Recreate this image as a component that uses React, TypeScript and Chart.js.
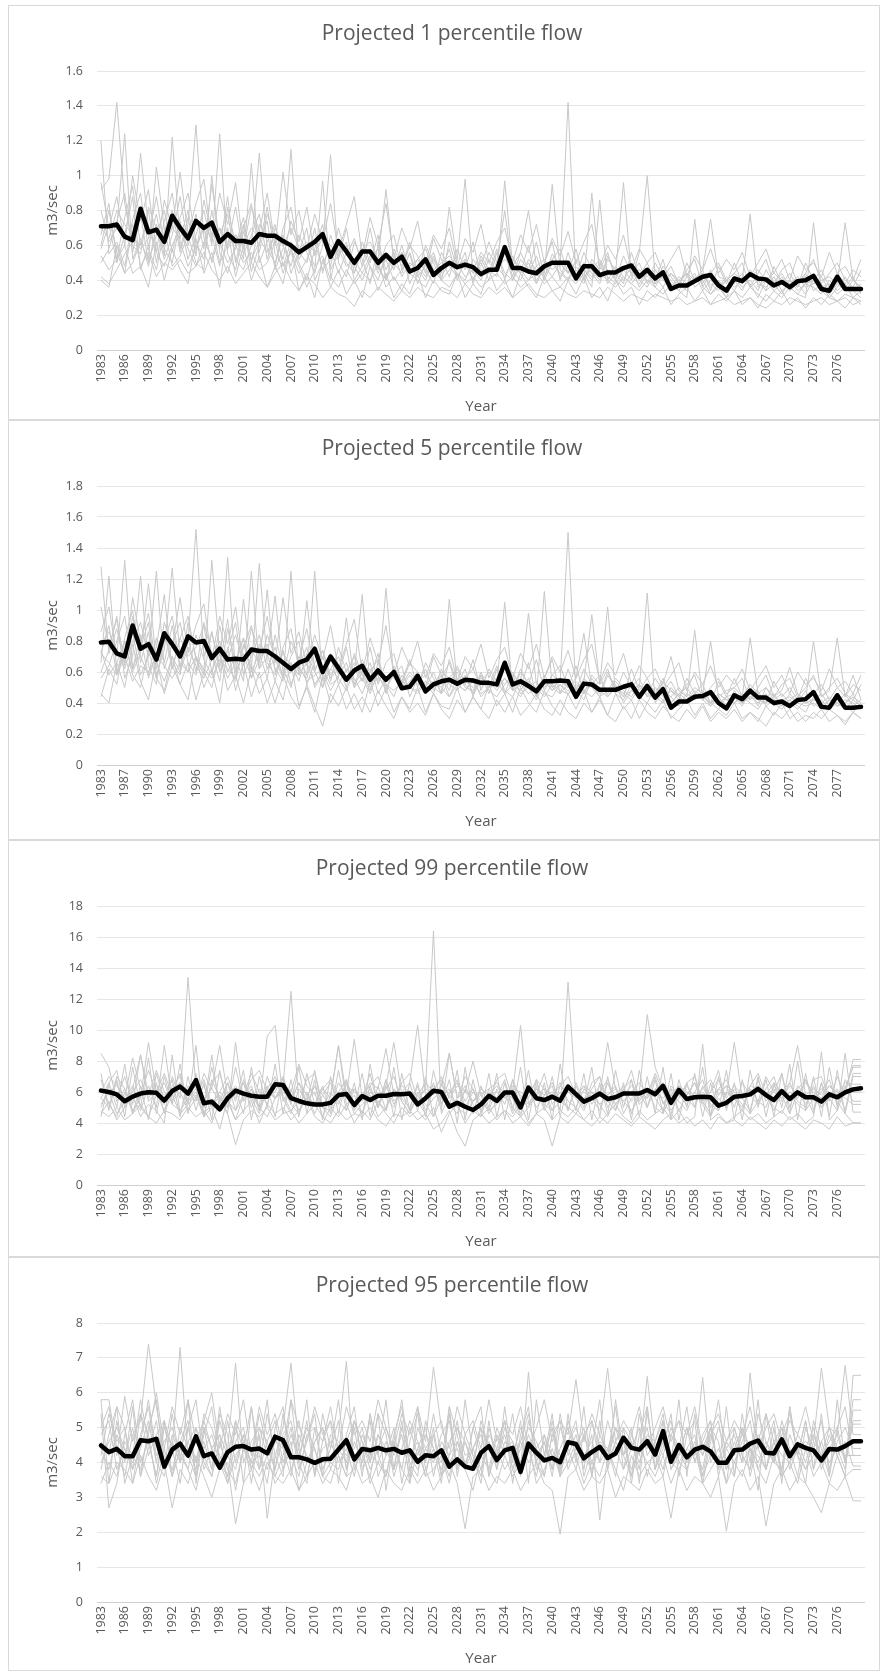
import React, { useEffect, useRef } from "react";
import { Chart, registerables } from "chart.js";
Chart.register(...registerables);

// ---------- categories ----------
const YEARS: string[] = Array.from({ length: 97 }, (_, i) => String(1983 + i));
const YEARS_P5: string[] = ["1983", ...Array.from({ length: 96 }, (_, i) => String(1985 + i))];

const TITLES = [
  "Projected 1 percentile flow",
  "Projected 5 percentile flow",
  "Projected 99 percentile flow",
  "Projected 95 percentile flow",
];
const Y_TITLE = "m3/sec";
const X_TITLE = "Year";
const Y_MAX = [1.6, 1.8, 18, 8];
const Y_STEP = [0.2, 0.2, 2, 1];

// ---------- Panel 1 : 1 percentile ----------
const P1_MEAN = [
  0.71, 0.71, 0.72, 0.65, 0.63, 0.81, 0.675, 0.69, 0.62, 0.77,
  0.70, 0.64, 0.74, 0.70, 0.73, 0.62, 0.665, 0.625, 0.625, 0.615,
  0.665, 0.655, 0.655, 0.625, 0.60, 0.56, 0.59, 0.62, 0.665, 0.535,
  0.625, 0.565, 0.50, 0.565, 0.565, 0.50, 0.545, 0.50, 0.535, 0.45,
  0.47, 0.52, 0.43, 0.47, 0.50, 0.475, 0.49, 0.475, 0.435, 0.46,
  0.46, 0.59, 0.47, 0.47, 0.45, 0.44, 0.48, 0.50, 0.50, 0.50,
  0.41, 0.48, 0.48, 0.43, 0.445, 0.445, 0.47, 0.485, 0.42, 0.46,
  0.41, 0.445, 0.35, 0.37, 0.37, 0.395, 0.42, 0.43, 0.37, 0.34,
  0.41, 0.395, 0.435, 0.41, 0.405, 0.37, 0.39, 0.36, 0.395, 0.40,
  0.425, 0.35, 0.34, 0.42, 0.35, 0.35, 0.35,
];
const P1_G1 = [
  0.92, 0.98, 1.42, 0.84, 0.60, 0.55, 0.82, 0.70, 0.52, 0.66,
  0.88, 0.60, 0.78, 0.58, 0.95, 0.62, 0.50, 0.58, 0.72, 0.45,
  0.60, 0.82, 0.55, 0.48, 0.62, 0.50, 0.40, 0.58, 0.72, 0.46,
  0.55, 0.62, 0.40, 0.48, 0.58, 0.44, 0.52, 0.40, 0.46, 0.55,
  0.38, 0.50, 0.42, 0.46, 0.58, 0.40, 0.52, 0.44, 0.48, 0.62,
  0.50, 0.80, 0.45, 0.40, 0.52, 0.46, 0.42, 0.55, 0.48, 1.42,
  0.40, 0.50, 0.44, 0.38, 0.52, 0.46, 0.40, 0.48, 0.36, 0.44,
  0.40, 0.52, 0.34, 0.38, 0.44, 0.36, 0.40, 0.32, 0.38, 0.30,
  0.42, 0.36, 0.40, 0.34, 0.46, 0.38, 0.32, 0.40, 0.36, 0.44,
  0.34, 0.38, 0.30, 0.36, 0.42, 0.34, 0.38,
];
const P1_G2 = [
  1.20, 0.55, 0.62, 0.48, 0.75, 0.90, 0.58, 0.46, 0.68, 0.80,
  0.56, 0.72, 1.29, 0.64, 0.52, 0.70, 0.60, 0.82, 0.55, 0.66,
  0.78, 0.52, 0.70, 0.60, 0.48, 0.66, 0.56, 0.44, 0.60, 1.12,
  0.50, 0.42, 0.62, 0.52, 0.38, 0.60, 0.46, 0.56, 0.42, 0.50,
  0.46, 0.40, 0.52, 0.44, 0.82, 0.50, 0.42, 0.46, 0.40, 0.52,
  0.46, 0.56, 0.40, 0.48, 0.44, 0.54, 0.40, 0.50, 0.44, 0.40,
  0.52, 0.46, 0.40, 0.48, 0.42, 0.38, 0.46, 0.40, 0.56, 1.00,
  0.42, 0.36, 0.44, 0.38, 0.34, 0.42, 0.38, 0.46, 0.36, 0.40,
  0.34, 0.42, 0.38, 0.30, 0.40, 0.36, 0.42, 0.34, 0.38, 0.32,
  0.40, 0.36, 0.32, 0.38, 0.34, 0.40, 0.36,
];
const P1_G3 = [
  0.80, 0.62, 0.70, 1.24, 0.52, 0.64, 0.48, 0.72, 0.58, 0.50,
  0.74, 0.52, 0.66, 0.80, 0.60, 1.24, 0.55, 0.46, 0.68, 0.52,
  0.62, 0.74, 0.46, 0.58, 1.15, 0.52, 0.60, 0.48, 0.54, 0.40,
  0.62, 0.50, 0.44, 0.58, 0.48, 0.40, 0.54, 0.46, 0.60, 0.44,
  0.52, 0.46, 0.38, 0.56, 0.48, 0.42, 0.50, 0.40, 0.54, 0.46,
  0.42, 0.97, 0.48, 0.44, 0.50, 0.40, 0.46, 0.52, 0.42, 0.48,
  0.44, 0.38, 0.50, 0.42, 0.46, 0.40, 0.36, 0.44, 0.40, 0.36,
  0.46, 0.40, 0.36, 0.42, 0.38, 0.44, 0.34, 0.40, 0.36, 0.42,
  0.38, 0.44, 0.36, 0.40, 0.34, 0.38, 0.44, 0.36, 0.32, 0.38,
  0.36, 0.32, 0.40, 0.34, 0.38, 0.30, 0.34,
];
const P1_G4 = [
  0.58, 0.72, 0.50, 0.66, 0.88, 0.46, 0.60, 0.78, 0.54, 1.22,
  0.62, 0.48, 0.58, 0.70, 0.50, 0.66, 0.78, 0.52, 0.46, 0.60,
  1.13, 0.58, 0.50, 0.66, 0.44, 0.56, 0.70, 0.40, 0.50, 0.58,
  0.44, 0.56, 0.48, 0.40, 0.52, 0.58, 0.42, 0.48, 0.56, 0.38,
  0.48, 0.42, 0.54, 0.40, 0.46, 0.52, 0.98, 0.44, 0.50, 0.40,
  0.56, 0.44, 0.40, 0.52, 0.46, 0.38, 0.48, 0.42, 0.50, 0.44,
  0.48, 0.42, 0.46, 0.52, 0.38, 0.44, 0.96, 0.42, 0.38, 0.46,
  0.36, 0.44, 0.40, 0.34, 0.42, 0.38, 0.44, 0.36, 0.40, 0.34,
  0.40, 0.34, 0.44, 0.38, 0.36, 0.42, 0.34, 0.38, 0.42, 0.36,
  0.38, 0.42, 0.34, 0.40, 0.36, 0.42, 0.32,
];
const P1_G5 = [
  0.42, 0.38, 0.46, 0.55, 0.62, 1.13, 0.70, 0.56, 0.48, 0.60,
  0.70, 0.58, 0.48, 0.62, 0.72, 0.50, 0.60, 0.66, 0.52, 1.07,
  0.50, 0.62, 0.72, 0.48, 0.56, 0.44, 0.52, 0.62, 0.46, 0.52,
  0.58, 0.48, 0.52, 0.44, 0.54, 0.48, 0.40, 0.50, 0.44, 0.56,
  0.42, 0.48, 0.56, 0.42, 0.50, 0.44, 0.40, 0.52, 0.46, 0.44,
  0.48, 0.42, 0.52, 0.46, 0.40, 0.48, 0.44, 0.95, 0.46, 0.40,
  0.46, 0.40, 0.90, 0.44, 0.40, 0.48, 0.42, 0.38, 0.44, 0.40,
  0.38, 0.42, 0.36, 0.40, 0.36, 0.40, 0.42, 0.38, 0.34, 0.40,
  0.36, 0.40, 0.78, 0.36, 0.40, 0.34, 0.38, 0.40, 0.34, 0.38,
  0.40, 0.36, 0.38, 0.32, 0.36, 0.34, 0.30,
];
const P1_G6 = [
  0.60, 0.80, 0.56, 0.44, 0.50, 0.62, 0.52, 1.05, 0.70, 0.48,
  0.54, 0.66, 0.50, 0.46, 1.00, 0.56, 0.44, 0.60, 0.50, 0.56,
  0.46, 0.50, 0.62, 0.44, 0.58, 0.48, 0.36, 0.46, 0.97, 0.42,
  0.36, 0.46, 0.38, 0.44, 0.40, 0.50, 0.36, 0.42, 0.34, 0.44,
  0.40, 0.36, 0.46, 0.40, 0.36, 0.44, 0.38, 0.42, 0.36, 0.40,
  0.44, 0.38, 0.42, 0.36, 0.40, 0.44, 0.38, 0.42, 0.36, 0.42,
  0.38, 0.44, 0.36, 0.86, 0.40, 0.36, 0.42, 0.38, 0.34, 0.40,
  0.36, 0.32, 0.38, 0.34, 0.30, 0.75, 0.36, 0.32, 0.36, 0.30,
  0.34, 0.30, 0.36, 0.32, 0.28, 0.34, 0.30, 0.36, 0.32, 0.30,
  0.73, 0.34, 0.30, 0.28, 0.32, 0.30, 0.28,
];
const P1_G7 = [
  0.54, 0.46, 0.52, 0.60, 0.44, 0.48, 0.56, 0.42, 0.50, 0.46,
  0.52, 0.44, 0.48, 0.56, 0.46, 0.40, 0.48, 0.38, 0.44, 0.50,
  0.42, 0.36, 0.44, 0.50, 0.40, 0.34, 0.42, 0.38, 0.30, 0.36,
  0.32, 0.30, 0.25, 0.34, 0.30, 0.36, 0.32, 0.28, 0.34, 0.30,
  0.36, 0.32, 0.30, 0.36, 0.34, 0.30, 0.38, 0.32, 0.30, 0.36,
  0.32, 0.36, 0.30, 0.34, 0.38, 0.32, 0.30, 0.34, 0.36, 0.32,
  0.30, 0.34, 0.32, 0.30, 0.36, 0.32, 0.28, 0.32, 0.30, 0.28,
  0.32, 0.30, 0.28, 0.30, 0.26, 0.28, 0.30, 0.26, 0.28, 0.30,
  0.26, 0.28, 0.30, 0.26, 0.24, 0.28, 0.26, 0.30, 0.28, 0.26,
  0.28, 0.30, 0.26, 0.28, 0.30, 0.26, 0.28,
];
const P1_G8 = [
  0.70, 0.64, 0.80, 0.72, 0.66, 0.58, 0.64, 0.88, 0.60, 0.70,
  0.64, 0.80, 0.58, 0.72, 0.64, 0.70, 0.58, 0.66, 0.60, 0.70,
  0.64, 0.56, 0.66, 0.60, 0.70, 0.58, 0.62, 0.56, 0.64, 0.60,
  0.54, 0.60, 0.50, 0.58, 0.62, 0.52, 0.92, 0.50, 0.56, 0.48,
  0.52, 0.58, 0.46, 0.50, 0.54, 0.48, 0.52, 0.46, 0.56, 0.50,
  0.46, 0.52, 0.48, 0.56, 0.80, 0.48, 0.52, 0.46, 0.50, 0.44,
  0.50, 0.46, 0.42, 0.50, 0.46, 0.42, 0.48, 0.44, 0.46, 0.42,
  0.46, 0.40, 0.44, 0.40, 0.44, 0.40, 0.46, 0.75, 0.42, 0.40,
  0.44, 0.40, 0.42, 0.46, 0.40, 0.44, 0.40, 0.36, 0.40, 0.42,
  0.38, 0.40, 0.42, 0.38, 0.73, 0.40, 0.36,
];
const P1_G9 = [
  0.96, 0.70, 0.88, 0.60, 1.00, 0.74, 0.92, 0.56, 0.86, 0.70,
  1.02, 0.66, 0.84, 0.98, 0.62, 0.90, 0.72, 0.96, 0.58, 0.82,
  0.68, 0.90, 0.60, 1.02, 0.66, 0.80, 0.58, 0.78, 0.62, 0.84,
  0.56, 0.72, 0.88, 0.54, 0.76, 0.60, 0.84, 0.52, 0.70, 0.58,
  0.74, 0.50, 0.66, 0.58, 0.70, 0.48, 0.64, 0.56, 0.72, 0.50,
  0.62, 0.70, 0.50, 0.66, 0.56, 0.72, 0.50, 0.64, 0.54, 0.68,
  0.50, 0.62, 0.72, 0.48, 0.60, 0.52, 0.66, 0.46, 0.58, 0.50,
  0.56, 0.44, 0.52, 0.60, 0.42, 0.54, 0.46, 0.58, 0.44, 0.52,
  0.46, 0.56, 0.42, 0.50, 0.58, 0.44, 0.52, 0.40, 0.54, 0.46,
  0.50, 0.42, 0.56, 0.44, 0.48, 0.40, 0.52,
];
const P1_G10 = [
  0.40, 0.36, 0.60, 0.44, 0.72, 0.48, 0.36, 0.62, 0.40, 0.58,
  0.46, 0.38, 0.64, 0.44, 0.56, 0.36, 0.70, 0.42, 0.60, 0.40,
  0.54, 0.36, 0.48, 0.38, 0.60, 0.34, 0.44, 0.30, 0.52, 0.36,
  0.46, 0.32, 0.40, 0.30, 0.48, 0.34, 0.44, 0.30, 0.38, 0.32,
  0.44, 0.30, 0.40, 0.34, 0.32, 0.44, 0.30, 0.38, 0.32, 0.46,
  0.34, 0.40, 0.30, 0.44, 0.36, 0.30, 0.42, 0.34, 0.28, 0.40,
  0.32, 0.42, 0.30, 0.36, 0.28, 0.40, 0.32, 0.36, 0.26, 0.34,
  0.30, 0.36, 0.26, 0.32, 0.36, 0.28, 0.34, 0.26, 0.32, 0.28,
  0.34, 0.26, 0.30, 0.24, 0.32, 0.28, 0.34, 0.26, 0.30, 0.24,
  0.30, 0.26, 0.32, 0.28, 0.24, 0.30, 0.26,
];
const P1_G11 = [
  0.66, 0.84, 0.52, 0.76, 0.94, 0.60, 0.80, 0.50, 0.74, 0.90,
  0.58, 0.76, 0.54, 0.86, 0.66, 0.48, 0.82, 0.60, 0.76, 0.50,
  0.72, 0.66, 0.48, 0.70, 0.82, 0.56, 0.50, 0.70, 0.44, 0.66,
  0.52, 0.70, 0.44, 0.62, 0.50, 0.66, 0.40, 0.58, 0.48, 0.62,
  0.44, 0.60, 0.50, 0.40, 0.62, 0.46, 0.56, 0.38, 0.52, 0.44,
  0.58, 0.40, 0.54, 0.44, 0.60, 0.38, 0.50, 0.62, 0.40, 0.56,
  0.42, 0.56, 0.46, 0.40, 0.54, 0.44, 0.38, 0.56, 0.42, 0.50,
  0.38, 0.48, 0.42, 0.36, 0.50, 0.40, 0.46, 0.34, 0.48, 0.38,
  0.50, 0.38, 0.46, 0.40, 0.34, 0.48, 0.38, 0.44, 0.36, 0.50,
  0.40, 0.46, 0.36, 0.44, 0.38, 0.46, 0.42,
];
const P1_G12 = [
  0.50, 0.58, 0.74, 0.90, 0.56, 0.78, 0.50, 0.66, 0.80, 0.56,
  0.76, 0.90, 0.62, 0.52, 0.80, 0.58, 0.88, 0.50, 0.70, 0.84,
  0.56, 0.78, 0.64, 0.52, 0.74, 0.62, 0.82, 0.54, 0.68, 0.48,
  0.70, 0.54, 0.64, 0.48, 0.70, 0.46, 0.60, 0.66, 0.46, 0.60,
  0.54, 0.44, 0.64, 0.52, 0.42, 0.58, 0.46, 0.62, 0.42, 0.56,
  0.48, 0.60, 0.42, 0.56, 0.46, 0.62, 0.42, 0.52, 0.58, 0.44,
  0.58, 0.40, 0.52, 0.46, 0.56, 0.40, 0.54, 0.44, 0.50, 0.38,
  0.50, 0.42, 0.48, 0.38, 0.46, 0.52, 0.36, 0.44, 0.50, 0.40,
  0.44, 0.50, 0.36, 0.44, 0.52, 0.38, 0.46, 0.50, 0.38, 0.44,
  0.52, 0.38, 0.44, 0.50, 0.40, 0.36, 0.46,
];

// ---------- Panel 2 : 5 percentile ----------
const P2_MEAN = [
  0.79, 0.795, 0.72, 0.70, 0.90, 0.75, 0.78, 0.68, 0.85, 0.78,
  0.70, 0.83, 0.79, 0.80, 0.69, 0.75, 0.68, 0.685, 0.68, 0.745,
  0.735, 0.735, 0.70, 0.66, 0.62, 0.66, 0.68, 0.75, 0.60, 0.70,
  0.625, 0.55, 0.61, 0.64, 0.55, 0.61, 0.55, 0.60, 0.495, 0.505,
  0.575, 0.475, 0.52, 0.54, 0.55, 0.525, 0.55, 0.545, 0.53, 0.53,
  0.52, 0.66, 0.52, 0.54, 0.51, 0.475, 0.54, 0.54, 0.545, 0.54,
  0.44, 0.525, 0.52, 0.485, 0.485, 0.485, 0.505, 0.52, 0.44, 0.51,
  0.435, 0.49, 0.37, 0.41, 0.41, 0.44, 0.445, 0.47, 0.40, 0.365,
  0.45, 0.425, 0.48, 0.435, 0.435, 0.40, 0.41, 0.38, 0.42, 0.425,
  0.47, 0.375, 0.37, 0.45, 0.37, 0.37, 0.375,
];
const P2_G1 = [
  1.28, 0.72, 0.88, 0.64, 0.96, 0.70, 0.58, 0.82, 0.66, 0.90,
  0.62, 0.80, 1.52, 0.70, 0.86, 0.60, 0.74, 0.92, 0.58, 0.70,
  0.84, 0.62, 0.76, 0.56, 0.70, 0.80, 0.52, 0.66, 0.74, 0.58,
  0.64, 0.50, 0.72, 0.58, 0.48, 0.66, 0.54, 0.62, 0.50, 0.58,
  0.52, 0.62, 0.48, 0.56, 0.66, 0.50, 0.58, 0.46, 0.54, 0.60,
  0.50, 0.56, 0.48, 0.60, 0.52, 0.46, 0.58, 0.50, 0.54, 1.50,
  0.46, 0.56, 0.50, 0.44, 0.58, 0.50, 0.46, 0.54, 0.42, 0.50,
  0.46, 0.56, 0.40, 0.46, 0.50, 0.42, 0.46, 0.38, 0.44, 0.36,
  0.48, 0.40, 0.46, 0.38, 0.50, 0.42, 0.38, 0.46, 0.40, 0.48,
  0.38, 0.42, 0.36, 0.40, 0.46, 0.38, 0.42,
];
const P2_G2 = [
  0.86, 1.02, 0.70, 1.32, 0.62, 0.76, 0.92, 0.58, 0.74, 1.27,
  0.70, 0.60, 0.84, 0.68, 0.58, 0.90, 0.66, 0.54, 0.78, 0.62,
  1.30, 0.66, 0.58, 0.74, 0.52, 0.64, 0.76, 0.50, 0.60, 0.70,
  0.52, 0.62, 0.56, 0.46, 0.60, 0.68, 0.50, 0.58, 0.64, 0.44,
  0.56, 0.50, 0.60, 0.46, 0.54, 0.60, 0.50, 0.48, 0.58, 0.46,
  0.62, 0.48, 0.44, 0.56, 0.50, 0.42, 0.54, 0.48, 0.56, 0.50,
  0.54, 0.48, 0.52, 0.58, 0.44, 0.50, 0.46, 0.42, 0.50, 1.11,
  0.40, 0.48, 0.44, 0.38, 0.46, 0.42, 0.48, 0.40, 0.44, 0.38,
  0.44, 0.38, 0.48, 0.42, 0.40, 0.46, 0.38, 0.42, 0.46, 0.40,
  0.42, 0.46, 0.38, 0.44, 0.40, 0.46, 0.36,
];
const P2_G3 = [
  0.66, 1.22, 0.60, 0.74, 0.86, 0.58, 0.70, 1.25, 0.62, 0.78,
  0.92, 0.66, 0.58, 0.80, 0.70, 0.62, 1.34, 0.60, 0.72, 0.56,
  0.68, 0.78, 0.62, 0.54, 1.25, 0.58, 0.66, 0.52, 0.60, 0.48,
  0.58, 0.66, 0.50, 0.56, 0.46, 0.60, 0.52, 0.44, 0.58, 0.50,
  0.46, 0.54, 0.50, 0.58, 0.44, 0.52, 0.48, 0.56, 0.44, 0.50,
  0.54, 0.46, 0.52, 0.48, 0.56, 0.44, 1.12, 0.50, 0.46, 0.52,
  0.48, 0.42, 0.56, 0.48, 0.44, 0.52, 0.40, 0.48, 0.44, 0.40,
  0.50, 0.44, 0.40, 0.46, 0.42, 0.48, 0.44, 0.40, 0.36, 0.44,
  0.40, 0.44, 0.40, 0.36, 0.44, 0.40, 0.36, 0.42, 0.38, 0.34,
  0.44, 0.40, 0.36, 0.42, 0.38, 0.34, 0.40,
];
const P2_G4 = [
  0.60, 0.74, 0.96, 0.56, 0.70, 1.22, 0.64, 0.52, 0.86, 0.66,
  0.58, 0.92, 0.70, 0.60, 1.32, 0.72, 0.56, 0.66, 0.82, 0.60,
  0.72, 0.56, 0.84, 0.62, 0.50, 0.70, 0.58, 1.25, 0.54, 0.62,
  0.56, 0.48, 0.62, 0.54, 0.66, 0.46, 0.56, 0.60, 0.48, 0.54,
  0.60, 0.46, 0.54, 0.50, 0.44, 0.56, 0.52, 0.46, 0.60, 0.48,
  0.44, 0.52, 0.58, 0.46, 0.50, 0.54, 0.46, 0.44, 0.52, 0.48,
  0.50, 0.54, 0.97, 0.52, 1.02, 0.46, 0.42, 0.52, 0.46, 0.48,
  0.44, 0.40, 0.50, 0.44, 0.40, 0.46, 0.42, 0.38, 0.46, 0.42,
  0.40, 0.46, 0.42, 0.48, 0.38, 0.42, 0.46, 0.40, 0.36, 0.42,
  0.46, 0.38, 0.42, 0.40, 0.36, 0.42, 0.38,
];
const P2_G5 = [
  0.74, 0.58, 0.66, 0.80, 0.60, 0.72, 1.17, 0.66, 0.54, 0.70,
  0.60, 0.76, 0.64, 0.56, 0.68, 0.80, 0.60, 0.70, 0.54, 1.25,
  0.62, 0.70, 1.09, 0.60, 0.66, 0.54, 0.72, 0.60, 0.50, 0.62,
  0.70, 0.54, 0.60, 1.10, 0.52, 0.58, 0.48, 0.62, 0.54, 0.50,
  0.58, 0.52, 0.46, 0.62, 0.52, 0.48, 0.56, 0.62, 0.50, 0.54,
  0.48, 0.56, 0.50, 0.44, 0.54, 0.50, 0.56, 0.48, 0.52, 0.46,
  0.52, 0.48, 0.44, 0.50, 0.46, 0.54, 0.48, 0.44, 0.52, 0.46,
  0.42, 0.48, 0.44, 0.50, 0.44, 0.87, 0.42, 0.46, 0.40, 0.44,
  0.46, 0.40, 0.44, 0.40, 0.46, 0.38, 0.42, 0.44, 0.40, 0.38,
  0.40, 0.36, 0.42, 0.38, 0.42, 0.40, 0.36,
];
const P2_G6 = [
  0.44, 0.62, 0.52, 0.80, 0.58, 0.50, 0.74, 0.56, 0.48, 0.70,
  0.52, 0.66, 0.42, 0.60, 0.50, 0.72, 0.48, 0.58, 0.40, 0.62,
  0.46, 0.56, 0.40, 0.58, 0.44, 0.36, 0.52, 0.38, 0.25, 0.46,
  0.38, 0.50, 0.36, 0.44, 0.34, 0.48, 0.38, 0.30, 0.44, 0.34,
  0.40, 0.32, 0.46, 0.36, 0.30, 0.42, 0.34, 0.44, 0.36, 0.30,
  0.42, 0.34, 0.44, 0.32, 0.38, 0.46, 0.36, 0.32, 0.42, 0.34,
  0.30, 0.40, 0.34, 0.44, 0.32, 0.28, 0.38, 0.30, 0.42, 0.34,
  0.30, 0.38, 0.32, 0.28, 0.36, 0.30, 0.38, 0.28, 0.34, 0.30,
  0.36, 0.28, 0.34, 0.30, 0.25, 0.34, 0.30, 0.36, 0.28, 0.32,
  0.30, 0.36, 0.28, 0.32, 0.26, 0.34, 0.30,
];
const P2_G7 = [
  0.78, 0.86, 0.74, 0.62, 0.80, 0.92, 0.70, 0.76, 1.10, 0.62,
  0.82, 0.70, 0.76, 0.90, 0.60, 0.74, 0.68, 0.84, 0.66, 0.74,
  0.66, 1.13, 0.60, 0.72, 0.64, 0.58, 1.06, 0.62, 0.70, 0.56,
  0.62, 0.56, 0.66, 0.58, 0.62, 0.54, 1.14, 0.56, 0.52, 0.60,
  0.54, 0.58, 0.52, 0.60, 0.56, 0.62, 0.54, 0.50, 0.56, 0.52,
  0.56, 0.52, 0.58, 0.54, 0.98, 0.52, 0.50, 0.58, 0.54, 0.50,
  0.56, 0.85, 0.50, 0.54, 0.48, 0.56, 0.50, 0.52, 0.46, 0.52,
  0.48, 0.52, 0.70, 0.48, 0.44, 0.50, 0.46, 0.80, 0.44, 0.48,
  0.50, 0.44, 0.82, 0.46, 0.50, 0.44, 0.48, 0.63, 0.46, 0.42,
  0.80, 0.44, 0.48, 0.82, 0.44, 0.58, 0.42,
];
const P2_G8 = [
  0.72, 0.66, 0.58, 0.70, 0.54, 0.64, 0.60, 0.70, 0.64, 0.56,
  0.66, 0.60, 0.70, 0.62, 0.56, 0.68, 0.62, 0.56, 1.07, 0.64,
  0.56, 0.62, 0.68, 0.56, 0.60, 0.64, 0.54, 0.58, 0.62, 0.52,
  0.56, 0.95, 0.52, 0.60, 0.50, 0.56, 0.52, 0.48, 0.54, 0.50,
  0.48, 0.54, 0.50, 0.46, 1.07, 0.52, 0.48, 0.54, 0.46, 0.50,
  0.52, 1.05, 0.48, 0.52, 0.46, 0.50, 0.44, 0.52, 0.48, 0.46,
  0.50, 0.46, 0.52, 0.44, 0.48, 0.50, 0.44, 0.48, 0.52, 0.44,
  0.46, 0.42, 0.48, 0.44, 0.40, 0.46, 0.44, 0.40, 0.46, 0.42,
  0.44, 0.40, 0.44, 0.42, 0.40, 0.44, 0.40, 0.38, 0.44, 0.40,
  0.42, 0.40, 0.44, 0.38, 0.40, 0.44, 0.40,
];
const P2_G9 = [
  1.02, 0.76, 0.94, 0.66, 1.08, 0.80, 0.98, 0.62, 0.92, 0.76,
  1.08, 0.72, 0.90, 1.04, 0.68, 0.96, 0.78, 1.02, 0.64, 0.88,
  0.74, 0.96, 0.66, 1.08, 0.72, 0.86, 0.64, 0.84, 0.68, 0.90,
  0.62, 0.78, 0.94, 0.60, 0.82, 0.66, 0.90, 0.58, 0.76, 0.64,
  0.80, 0.56, 0.72, 0.64, 0.76, 0.54, 0.70, 0.62, 0.78, 0.56,
  0.68, 0.76, 0.56, 0.72, 0.62, 0.78, 0.56, 0.70, 0.60, 0.74,
  0.56, 0.68, 0.78, 0.54, 0.66, 0.58, 0.72, 0.52, 0.64, 0.56,
  0.62, 0.50, 0.58, 0.66, 0.48, 0.60, 0.52, 0.64, 0.50, 0.58,
  0.52, 0.62, 0.48, 0.56, 0.64, 0.50, 0.58, 0.46, 0.60, 0.52,
  0.56, 0.48, 0.62, 0.50, 0.54, 0.46, 0.58,
];
const P2_G10 = [
  0.46, 0.40, 0.66, 0.50, 0.78, 0.54, 0.42, 0.68, 0.46, 0.64,
  0.52, 0.42, 0.70, 0.50, 0.62, 0.40, 0.76, 0.48, 0.66, 0.44,
  0.60, 0.40, 0.54, 0.42, 0.66, 0.38, 0.50, 0.34, 0.58, 0.40,
  0.52, 0.36, 0.46, 0.34, 0.54, 0.38, 0.50, 0.34, 0.44, 0.36,
  0.50, 0.34, 0.46, 0.38, 0.36, 0.50, 0.34, 0.44, 0.36, 0.52,
  0.38, 0.46, 0.34, 0.50, 0.40, 0.34, 0.48, 0.38, 0.32, 0.46,
  0.36, 0.48, 0.34, 0.42, 0.32, 0.46, 0.36, 0.42, 0.30, 0.40,
  0.34, 0.42, 0.30, 0.36, 0.42, 0.32, 0.40, 0.30, 0.36, 0.32,
  0.40, 0.30, 0.34, 0.28, 0.38, 0.32, 0.40, 0.30, 0.34, 0.28,
  0.34, 0.30, 0.36, 0.32, 0.28, 0.34, 0.30,
];
const P2_G11 = [
  0.72, 0.90, 0.58, 0.82, 1.00, 0.66, 0.86, 0.56, 0.80, 0.96,
  0.64, 0.82, 0.60, 0.92, 0.72, 0.54, 0.88, 0.66, 0.82, 0.56,
  0.78, 0.72, 0.54, 0.76, 0.88, 0.62, 0.56, 0.76, 0.50, 0.72,
  0.58, 0.76, 0.50, 0.68, 0.56, 0.72, 0.46, 0.64, 0.54, 0.68,
  0.50, 0.66, 0.56, 0.46, 0.68, 0.52, 0.62, 0.44, 0.58, 0.50,
  0.64, 0.46, 0.60, 0.50, 0.66, 0.44, 0.56, 0.68, 0.46, 0.62,
  0.48, 0.62, 0.52, 0.46, 0.60, 0.50, 0.44, 0.62, 0.48, 0.56,
  0.44, 0.54, 0.48, 0.42, 0.56, 0.46, 0.52, 0.40, 0.54, 0.44,
  0.56, 0.44, 0.52, 0.46, 0.40, 0.54, 0.44, 0.50, 0.42, 0.56,
  0.46, 0.52, 0.42, 0.50, 0.44, 0.52, 0.48,
];
const P2_G12 = [
  0.56, 0.64, 0.80, 0.96, 0.62, 0.84, 0.56, 0.72, 0.86, 0.62,
  0.82, 0.96, 0.68, 0.58, 0.86, 0.64, 0.94, 0.56, 0.76, 0.90,
  0.62, 0.84, 0.70, 0.58, 0.80, 0.68, 0.88, 0.60, 0.74, 0.54,
  0.76, 0.60, 0.70, 0.54, 0.76, 0.52, 0.66, 0.72, 0.52, 0.66,
  0.60, 0.50, 0.70, 0.58, 0.48, 0.64, 0.52, 0.68, 0.48, 0.62,
  0.54, 0.66, 0.48, 0.62, 0.52, 0.68, 0.48, 0.58, 0.64, 0.50,
  0.64, 0.46, 0.58, 0.52, 0.62, 0.46, 0.60, 0.50, 0.56, 0.44,
  0.56, 0.48, 0.54, 0.44, 0.52, 0.58, 0.42, 0.50, 0.56, 0.46,
  0.50, 0.56, 0.42, 0.50, 0.58, 0.44, 0.52, 0.56, 0.44, 0.50,
  0.58, 0.44, 0.50, 0.56, 0.46, 0.42, 0.52,
];

// ---------- Panel 3 : 99 percentile ----------
const P3_MEAN = [
  6.09, 6.0, 5.85, 5.4, 5.7, 5.9, 5.98, 5.95, 5.45, 6.06,
  6.35, 5.9, 6.77, 5.27, 5.38, 4.88, 5.6, 6.09, 5.9, 5.76,
  5.7, 5.7, 6.5, 6.45, 5.6, 5.42, 5.27, 5.2, 5.2, 5.3,
  5.8, 5.87, 5.16, 5.74, 5.48, 5.76, 5.76, 5.87, 5.85, 5.9,
  5.2, 5.6, 6.08, 6.0, 5.05, 5.3, 5.05, 4.84, 5.2, 5.76,
  5.42, 5.96, 5.96, 5.0, 6.28, 5.6, 5.48, 5.7, 5.44, 6.35,
  5.87, 5.38, 5.6, 5.9, 5.55, 5.66, 5.9, 5.9, 5.9, 6.13,
  5.85, 6.4, 5.3, 6.13, 5.55, 5.66, 5.7, 5.66, 5.12, 5.3,
  5.7, 5.74, 5.85, 6.2, 5.8, 5.48, 6.06, 5.55, 5.98, 5.66,
  5.66, 5.38, 5.85, 5.66, 5.98, 6.17, 6.24,
];
const P3_G1 = [
  8.5, 7.6, 5.4, 6.2, 4.8, 5.6, 9.2, 6.0, 5.2, 7.0,
  5.6, 13.4, 6.2, 5.0, 7.6, 5.4, 6.6, 4.8, 5.8, 7.2,
  6.0, 5.2, 6.8, 5.6, 4.6, 6.2, 5.4, 7.4, 5.0, 6.0,
  5.2, 6.6, 4.8, 5.8, 6.4, 5.0, 6.2, 7.0, 5.4, 4.6,
  6.0, 5.4, 6.6, 4.8, 8.5, 5.6, 6.4, 5.2, 4.4, 6.2,
  5.6, 6.8, 5.0, 4.4, 6.4, 5.8, 7.2, 5.2, 6.0, 4.8,
  6.6, 5.4, 6.2, 7.0, 5.0, 5.8, 6.4, 4.6, 6.0, 5.6,
  7.0, 5.2, 6.2, 4.8, 5.8, 6.6, 5.4, 6.0, 7.4, 5.0,
  6.2, 5.6, 4.8, 6.8, 5.4, 6.0, 7.2, 5.0, 6.4, 5.8,
  4.6, 6.6, 5.4, 7.0, 5.8, 8.1, 8.1,
];
const P3_G2 = [
  5.0, 6.4, 5.6, 7.0, 5.2, 8.4, 5.8, 6.6, 4.6, 6.0,
  7.2, 5.4, 6.0, 4.4, 6.8, 5.6, 5.0, 7.6, 5.4, 6.2,
  4.8, 7.0, 5.6, 6.4, 12.5, 5.2, 6.0, 4.6, 5.8, 6.6,
  5.4, 4.8, 6.2, 5.6, 7.2, 5.0, 6.4, 5.2, 6.0, 4.8,
  5.6, 6.2, 16.4, 4.6, 5.8, 6.8, 5.0, 6.0, 5.4, 4.8,
  6.2, 5.2, 6.8, 5.6, 5.0, 6.4, 4.8, 5.8, 6.6, 5.4,
  5.0, 6.2, 5.6, 4.8, 6.6, 5.2, 6.0, 7.4, 5.4, 6.2,
  5.6, 4.8, 6.4, 5.8, 5.2, 6.0, 6.8, 5.0, 5.8, 6.4,
  5.0, 6.6, 5.8, 5.2, 6.2, 7.0, 5.4, 6.0, 5.6, 6.8,
  5.4, 6.0, 6.8, 5.2, 6.2, 7.7, 7.7,
];
const P3_G3 = [
  6.8, 5.2, 4.4, 6.0, 5.6, 4.8, 6.4, 5.0, 9.0, 5.4,
  6.0, 4.8, 5.6, 6.4, 5.0, 5.8, 4.6, 9.2, 5.4, 6.2,
  5.0, 9.6, 10.3, 5.4, 6.2, 4.8, 5.6, 6.0, 4.4, 5.8,
  9.0, 5.2, 5.8, 4.6, 6.0, 5.4, 4.8, 6.2, 5.6, 5.0,
  6.4, 4.8, 5.6, 6.0, 5.2, 4.6, 6.2, 5.4, 5.8, 4.6,
  5.4, 6.0, 4.6, 5.6, 6.2, 5.0, 5.8, 6.4, 4.8, 13.1,
  5.6, 4.8, 6.0, 5.2, 5.8, 6.4, 4.6, 5.6, 6.0, 5.0,
  6.2, 5.4, 4.6, 6.0, 5.6, 5.0, 6.4, 5.2, 4.8, 6.0,
  5.6, 4.8, 6.2, 5.4, 5.0, 6.4, 5.8, 4.6, 6.0, 5.2,
  6.4, 5.0, 5.6, 6.2, 4.8, 7.2, 7.2,
];
const P3_G4 = [
  5.6, 6.6, 7.4, 5.0, 6.2, 8.4, 5.4, 6.0, 7.2, 5.8,
  4.6, 6.4, 5.6, 6.8, 5.2, 6.0, 7.0, 5.6, 6.6, 5.0,
  6.2, 5.6, 6.0, 7.0, 5.4, 6.6, 5.2, 6.4, 5.8, 5.0,
  6.6, 5.8, 9.4, 5.6, 6.2, 5.0, 6.8, 5.4, 6.0, 6.6,
  10.3, 5.8, 6.4, 5.2, 6.0, 6.6, 5.4, 6.2, 4.8, 5.8,
  6.4, 5.6, 6.0, 10.3, 5.2, 6.2, 5.8, 6.6, 5.4, 6.0,
  5.8, 6.4, 5.2, 6.0, 6.8, 5.6, 6.2, 5.4, 6.0, 11.0,
  7.6, 6.2, 5.6, 6.4, 5.8, 6.6, 5.2, 6.0, 6.8, 5.6,
  6.4, 5.8, 6.2, 5.4, 7.0, 6.0, 5.6, 6.4, 5.8, 6.6,
  6.0, 5.6, 6.4, 5.8, 6.6, 6.5, 6.5,
];
const P3_G5 = [
  4.8, 4.4, 5.0, 4.2, 4.6, 5.2, 4.4, 4.0, 4.8, 4.6,
  4.2, 5.0, 4.4, 4.8, 4.0, 5.4, 4.6, 2.6, 4.2, 4.8,
  4.4, 5.0, 4.2, 4.6, 4.8, 4.0, 4.6, 5.2, 4.4, 4.0,
  4.8, 4.2, 4.6, 4.4, 5.0, 4.2, 3.8, 4.6, 4.4, 4.8,
  4.2, 4.6, 3.6, 4.0, 4.8, 3.4, 2.5, 4.2, 4.6, 4.0,
  4.4, 4.8, 4.0, 4.4, 3.8, 4.6, 4.2, 2.5, 4.4, 4.0,
  4.6, 4.2, 3.8, 4.4, 4.0, 4.6, 4.2, 3.8, 4.4, 4.0,
  3.6, 4.2, 4.6, 4.0, 4.4, 3.8, 4.2, 3.6, 4.4, 4.0,
  4.2, 3.8, 4.4, 4.0, 3.6, 4.2, 3.8, 4.4, 4.0, 3.6,
  4.2, 4.0, 3.6, 4.4, 3.8, 4.0, 4.0,
];
const P3_G6 = [
  6.2, 5.8, 6.6, 5.4, 6.0, 6.8, 5.6, 6.4, 5.8, 6.2,
  6.6, 5.8, 6.4, 5.6, 6.2, 5.4, 6.0, 5.8, 6.6, 5.4,
  5.8, 6.2, 5.6, 6.0, 5.4, 6.6, 5.8, 5.2, 6.2, 5.6,
  9.0, 5.8, 6.2, 5.4, 6.0, 5.6, 6.4, 9.2, 5.8, 6.0,
  5.4, 6.2, 5.8, 6.4, 8.5, 5.6, 6.0, 5.4, 6.2, 5.8,
  6.0, 5.6, 6.4, 5.8, 5.2, 6.2, 5.8, 6.0, 5.4, 6.2,
  5.8, 6.0, 5.6, 6.4, 5.8, 6.2, 5.4, 6.0, 6.6, 5.8,
  6.0, 5.6, 6.2, 5.8, 6.4, 5.6, 6.0, 5.4, 6.2, 5.8,
  9.2, 5.6, 6.0, 6.4, 5.8, 6.2, 5.6, 6.6, 9.0, 5.8,
  6.2, 5.8, 6.4, 6.0, 5.6, 5.2, 5.2,
];
const P3_G7 = [
  4.6, 5.4, 4.2, 5.0, 5.8, 4.4, 5.2, 4.8, 4.0, 8.4,
  4.6, 5.2, 9.0, 4.4, 5.0, 3.6, 5.6, 4.2, 4.8, 5.4,
  4.0, 5.2, 4.6, 5.0, 4.2, 4.8, 5.6, 4.4, 4.0, 5.0,
  4.4, 5.2, 4.0, 4.8, 4.2, 5.4, 4.6, 4.0, 5.0, 4.4,
  4.8, 4.2, 5.0, 3.4, 4.6, 5.2, 4.0, 4.8, 4.4, 5.0,
  4.2, 4.8, 4.4, 5.2, 4.0, 4.6, 5.0, 4.2, 4.8, 4.4,
  5.0, 4.2, 4.8, 4.0, 4.6, 5.2, 4.4, 4.0, 4.8, 4.2,
  4.6, 5.0, 4.2, 4.8, 4.0, 4.4, 9.1, 4.2, 4.6, 4.0,
  4.4, 4.8, 4.2, 4.6, 4.0, 4.4, 4.8, 4.2, 4.6, 4.0,
  4.4, 8.6, 4.2, 4.8, 8.5, 4.7, 4.7,
];
const P3_G8 = [
  6.0, 7.0, 6.4, 5.6, 8.2, 6.2, 5.8, 7.4, 6.0, 5.4,
  6.6, 6.0, 5.4, 7.2, 6.2, 9.0, 5.8, 6.4, 5.6, 6.8,
  7.4, 6.0, 5.6, 6.6, 6.0, 7.8, 6.4, 5.8, 6.2, 6.8,
  5.8, 6.4, 6.0, 5.6, 6.6, 6.2, 8.8, 5.8, 6.4, 6.0,
  5.8, 6.6, 6.0, 7.0, 5.6, 6.4, 6.0, 8.0, 5.8, 6.2,
  6.6, 5.8, 6.2, 6.0, 5.6, 6.8, 6.2, 5.8, 6.4, 6.0,
  5.6, 6.4, 6.0, 5.8, 9.2, 6.2, 5.8, 6.4, 6.0, 5.6,
  6.2, 6.6, 5.8, 6.4, 6.0, 5.6, 6.2, 6.8, 5.8, 6.4,
  6.0, 5.6, 6.4, 6.2, 5.8, 6.6, 6.0, 5.6, 6.2, 6.8,
  5.8, 6.2, 6.0, 5.6, 6.4, 5.4, 5.4,
];
const P3_G9 = [
  7.2, 4.8, 6.8, 4.4, 7.6, 5.0, 8.2, 4.6, 7.0, 5.2,
  7.8, 4.6, 7.2, 5.0, 8.4, 4.8, 6.6, 5.4, 7.4, 4.2,
  7.0, 5.0, 7.8, 4.6, 6.8, 4.4, 7.2, 5.2, 6.4, 4.6,
  7.4, 4.8, 6.6, 4.2, 7.8, 5.0, 6.8, 4.4, 7.2, 4.8,
  6.6, 4.4, 7.4, 5.2, 6.8, 4.0, 7.6, 4.6, 6.4, 5.0,
  7.2, 4.2, 6.8, 5.0, 7.4, 4.6, 6.6, 4.2, 7.8, 4.8,
  6.4, 5.2, 7.6, 4.4, 7.0, 4.8, 6.6, 4.2, 7.4, 5.0,
  6.8, 4.6, 7.2, 4.2, 6.6, 5.0, 7.6, 4.4, 7.0, 4.8,
  6.6, 4.2, 7.4, 5.0, 6.8, 4.4, 7.2, 4.6, 8.0, 4.8,
  7.0, 4.4, 7.6, 5.0, 6.8, 6.0, 6.0,
];
const P3_G10 = [
  4.4, 6.6, 5.0, 7.8, 4.6, 6.4, 4.2, 7.2, 5.4, 6.8,
  4.4, 7.0, 4.8, 6.6, 4.2, 7.4, 5.0, 6.2, 4.6, 7.6,
  4.8, 6.4, 4.4, 7.0, 5.2, 7.6, 4.6, 6.8, 4.2, 7.0,
  4.6, 6.8, 5.0, 7.2, 4.4, 6.4, 4.8, 7.6, 4.2, 6.6,
  4.8, 7.0, 4.4, 6.6, 5.0, 7.4, 4.2, 6.8, 4.6, 7.2,
  4.4, 6.6, 4.8, 7.6, 4.2, 6.8, 5.0, 7.0, 4.4, 6.4,
  4.8, 7.2, 4.2, 6.6, 4.6, 7.4, 5.0, 6.8, 4.4, 7.0,
  4.6, 7.6, 4.2, 6.8, 5.0, 7.2, 4.4, 6.6, 4.8, 7.4,
  4.2, 6.8, 4.6, 7.0, 4.4, 6.6, 5.0, 7.8, 4.2, 7.2,
  4.8, 6.6, 4.4, 7.4, 4.6, 7.0, 7.0,
];
const P3_G11 = [
  5.6, 5.0, 7.0, 6.2, 4.6, 5.8, 7.4, 6.0, 4.8, 6.4,
  7.0, 5.2, 5.8, 4.4, 6.6, 7.2, 5.4, 4.8, 6.8, 5.6,
  4.6, 6.2, 7.0, 5.8, 4.8, 5.4, 6.8, 7.2, 5.0, 4.4,
  6.0, 6.8, 5.2, 4.6, 6.4, 7.0, 5.6, 5.0, 6.6, 7.2,
  5.4, 4.6, 6.2, 6.8, 5.0, 5.6, 7.0, 6.2, 4.8, 5.4,
  6.8, 7.2, 5.6, 4.6, 6.0, 6.6, 5.2, 4.8, 6.4, 7.0,
  5.8, 5.0, 6.6, 7.0, 5.4, 4.8, 6.2, 6.8, 5.2, 5.8,
  7.2, 6.0, 4.8, 5.6, 6.6, 7.0, 5.4, 4.6, 6.2, 6.8,
  5.6, 5.0, 6.4, 7.2, 5.8, 4.8, 6.0, 6.6, 5.4, 5.0,
  6.8, 7.0, 5.6, 4.8, 6.2, 7.6, 7.6,
];
const P3_G12 = [
  5.2, 6.0, 4.6, 5.4, 6.4, 5.0, 4.4, 5.8, 6.6, 5.2,
  4.8, 5.6, 6.2, 4.6, 5.2, 6.0, 5.4, 4.2, 5.8, 6.4,
  5.0, 4.4, 5.6, 6.2, 5.2, 4.6, 5.8, 6.4, 5.0, 4.8,
  5.6, 6.0, 4.6, 5.2, 5.8, 4.4, 5.0, 6.2, 5.4, 4.6,
  5.8, 5.2, 4.4, 5.6, 6.2, 5.0, 4.6, 5.4, 6.0, 4.8,
  5.2, 6.0, 5.6, 4.4, 5.0, 5.8, 6.2, 4.8, 5.4, 5.0,
  4.6, 5.6, 6.0, 5.2, 4.4, 5.8, 5.4, 4.8, 5.6, 6.2,
  5.0, 4.6, 5.8, 5.4, 4.8, 6.0, 5.2, 4.4, 5.6, 5.0,
  5.8, 5.2, 4.6, 5.4, 6.0, 5.0, 4.6, 5.8, 5.2, 4.8,
  5.6, 5.0, 6.0, 5.4, 4.6, 4.0, 4.0,
];

// ---------- Panel 4 : 95 percentile ----------
const P4_MEAN = [
  4.49, 4.30, 4.39, 4.18, 4.18, 4.64, 4.61, 4.68, 3.88, 4.37,
  4.54, 4.20, 4.75, 4.18, 4.26, 3.85, 4.30, 4.45, 4.47, 4.37,
  4.40, 4.26, 4.74, 4.64, 4.15, 4.15, 4.09, 3.99, 4.09, 4.11,
  4.37, 4.64, 4.09, 4.39, 4.35, 4.42, 4.35, 4.39, 4.28, 4.35,
  4.02, 4.21, 4.18, 4.35, 3.88, 4.09, 3.88, 3.82, 4.28, 4.47,
  4.07, 4.35, 4.42, 3.73, 4.54, 4.28, 4.06, 4.13, 4.01, 4.58,
  4.53, 4.12, 4.30, 4.45, 4.13, 4.26, 4.71, 4.42, 4.37, 4.61,
  4.23, 4.90, 4.02, 4.50, 4.15, 4.37, 4.45, 4.32, 3.99, 3.99,
  4.35, 4.37, 4.54, 4.63, 4.28, 4.26, 4.66, 4.18, 4.52, 4.42,
  4.35, 4.06, 4.39, 4.37, 4.47, 4.61, 4.61,
];
const P4_G1 = [
  5.8, 5.8, 4.4, 3.6, 4.8, 5.2, 7.4, 5.6, 4.2, 3.8,
  4.6, 5.2, 3.6, 4.8, 5.6, 4.0, 3.4, 4.6, 5.0, 3.8,
  4.4, 5.8, 3.6, 4.2, 5.0, 3.8, 4.6, 5.4, 3.6, 4.0,
  4.8, 6.9, 3.8, 4.4, 5.2, 3.6, 4.2, 5.0, 3.4, 4.6,
  5.4, 3.8, 4.4, 4.0, 5.6, 3.6, 4.8, 4.2, 3.4, 5.0,
  4.2, 5.2, 3.8, 4.6, 5.4, 4.0, 3.6, 4.8, 5.2, 3.8,
  4.4, 5.0, 3.6, 4.8, 4.2, 5.6, 3.8, 4.4, 5.0, 3.6,
  4.6, 5.4, 3.8, 4.2, 5.0, 4.4, 3.6, 4.8, 5.2, 3.8,
  4.4, 5.0, 3.6, 4.6, 5.4, 4.0, 3.8, 4.8, 4.2, 5.2,
  3.8, 4.6, 5.0, 4.2, 3.6, 6.5, 6.5,
];
const P4_G2 = [
  5.4, 2.7, 3.4, 4.8, 5.8, 4.0, 4.6, 3.6, 5.0, 4.4,
  7.3, 4.2, 3.6, 5.0, 4.4, 3.8, 5.2, 4.0, 4.8, 3.4,
  5.0, 4.6, 3.8, 5.4, 4.2, 3.6, 4.8, 5.0, 3.8, 4.4,
  5.2, 3.8, 4.6, 4.0, 5.4, 4.2, 3.6, 4.8, 5.6, 3.8,
  4.4, 5.0, 3.6, 4.6, 4.2, 5.2, 3.8, 4.4, 5.0, 3.6,
  4.8, 4.2, 5.4, 3.8, 6.6, 4.0, 4.6, 3.6, 5.0, 4.4,
  3.8, 4.8, 5.2, 4.0, 4.4, 3.6, 5.0, 4.6, 3.8, 5.4,
  4.2, 3.6, 4.8, 5.2, 4.0, 4.4, 3.8, 5.0, 4.6, 3.4,
  5.0, 4.2, 3.8, 4.8, 4.4, 5.2, 3.6, 4.0, 4.8, 4.4,
  5.0, 3.8, 4.4, 4.8, 4.0, 5.8, 5.8,
];
const P4_G3 = [
  4.6, 4.2, 5.6, 5.0, 3.8, 4.4, 5.2, 4.0, 3.6, 4.8,
  4.2, 3.8, 5.0, 4.4, 4.8, 4.0, 3.6, 5.0, 4.4, 3.8,
  4.8, 2.4, 4.2, 5.0, 6.85, 4.4, 3.6, 4.6, 5.0, 4.0,
  3.8, 4.6, 5.2, 4.2, 3.6, 4.8, 4.4, 3.8, 5.0, 4.2,
  4.6, 3.6, 4.8, 5.2, 4.0, 4.4, 3.8, 5.0, 4.2, 4.6,
  3.8, 4.6, 4.2, 5.0, 4.4, 3.6, 4.8, 4.2, 3.8, 5.2,
  4.4, 4.0, 4.8, 2.35, 4.2, 5.0, 4.6, 3.8, 4.4, 5.0,
  3.8, 4.6, 5.2, 4.0, 4.4, 4.8, 3.6, 4.2, 5.0, 4.4,
  4.0, 4.6, 5.2, 3.8, 4.4, 4.0, 4.8, 5.4, 4.2, 3.8,
  4.6, 4.2, 5.0, 4.4, 3.8, 5.5, 5.5,
];
const P4_G4 = [
  4.0, 4.6, 5.0, 4.4, 3.8, 5.4, 4.2, 4.8, 5.2, 3.6,
  4.4, 5.0, 4.0, 4.6, 3.8, 5.2, 4.4, 6.85, 4.0, 4.6,
  5.0, 4.2, 4.8, 3.8, 4.4, 5.2, 4.0, 4.6, 5.0, 3.8,
  4.4, 4.0, 5.2, 4.6, 3.8, 4.4, 5.0, 4.2, 4.8, 3.6,
  5.0, 4.4, 4.0, 4.8, 5.2, 3.8, 4.6, 4.0, 5.0, 4.4,
  4.2, 4.8, 3.8, 4.4, 5.0, 4.6, 4.0, 5.2, 3.8, 4.6,
  5.0, 4.2, 4.6, 4.0, 5.2, 4.4, 3.8, 4.8, 4.2, 6.47,
  4.4, 3.8, 4.8, 4.2, 5.0, 4.0, 4.6, 5.2, 3.8, 4.4,
  4.8, 4.0, 6.57, 4.4, 3.8, 4.6, 5.0, 4.2, 4.6, 4.0,
  4.8, 4.2, 4.6, 5.0, 4.0, 5.1, 5.1,
];
const P4_G5 = [
  3.6, 3.4, 4.0, 3.8, 3.4, 4.2, 3.6, 3.2, 4.0, 2.7,
  3.8, 3.4, 4.2, 3.6, 3.0, 3.8, 4.0, 2.24, 3.4, 3.8,
  3.2, 4.0, 3.6, 3.4, 3.8, 3.2, 3.6, 4.0, 3.4, 3.8,
  3.6, 3.2, 4.0, 3.4, 3.6, 3.0, 3.8, 3.4, 3.2, 3.8,
  3.4, 3.8, 3.2, 3.6, 4.0, 3.4, 2.1, 3.6, 3.8, 3.2,
  3.6, 3.4, 3.8, 3.2, 3.6, 4.0, 3.4, 3.2, 1.94, 3.6,
  3.8, 3.2, 3.6, 3.4, 3.8, 3.0, 3.6, 3.4, 3.2, 3.8,
  3.4, 3.6, 2.4, 3.8, 3.2, 3.6, 3.4, 3.0, 3.6, 2.03,
  3.4, 3.8, 3.2, 3.6, 2.18, 3.4, 3.8, 3.2, 3.6, 3.4,
  3.0, 2.56, 3.4, 3.2, 3.6, 2.9, 2.9,
];
const P4_G6 = [
  5.0, 5.6, 4.2, 5.9, 4.6, 5.4, 4.8, 6.0, 4.4, 5.6,
  4.8, 5.8, 4.6, 5.2, 6.0, 4.4, 5.4, 4.8, 5.8, 4.2,
  5.6, 4.8, 5.4, 4.4, 5.8, 5.0, 4.6, 5.6, 4.8, 5.2,
  4.4, 5.6, 4.8, 5.2, 4.6, 5.8, 5.0, 4.4, 5.4, 4.8,
  5.6, 4.6, 6.74, 5.0, 4.4, 5.6, 4.8, 5.2, 4.4, 5.8,
  4.6, 5.2, 4.8, 5.6, 4.4, 5.0, 5.8, 4.6, 5.2, 4.8,
  6.38, 4.6, 5.4, 4.8, 6.7, 4.6, 5.2, 4.8, 5.6, 4.4,
  5.0, 5.6, 4.6, 5.2, 4.8, 5.6, 4.4, 5.0, 5.4, 4.6,
  5.2, 4.8, 5.6, 4.4, 5.0, 5.4, 4.6, 5.2, 4.8, 5.6,
  4.6, 6.71, 5.0, 4.8, 6.78, 4.8, 4.8,
];
const P4_G7 = [
  4.4, 3.8, 4.8, 4.2, 5.0, 3.6, 4.4, 5.2, 3.8, 4.6,
  4.0, 4.6, 5.0, 3.8, 4.4, 4.8, 3.4, 4.2, 4.6, 4.0,
  4.2, 3.8, 4.6, 4.4, 3.6, 4.8, 4.2, 3.8, 4.4, 4.6,
  4.0, 4.4, 3.6, 4.8, 4.2, 4.0, 4.6, 3.8, 4.4, 4.2,
  3.8, 4.4, 4.8, 3.6, 4.2, 4.6, 4.0, 4.4, 3.8, 4.8,
  4.4, 3.8, 4.2, 4.6, 4.0, 4.4, 3.6, 4.8, 4.2, 4.0,
  4.6, 4.2, 3.8, 4.4, 4.0, 4.6, 4.2, 3.6, 4.4, 4.0,
  4.2, 4.6, 4.0, 3.8, 4.4, 4.2, 6.44, 4.0, 4.4, 3.8,
  4.6, 4.0, 4.4, 4.2, 3.8, 4.6, 4.2, 4.0, 4.4, 3.8,
  4.2, 4.6, 4.0, 4.4, 4.2, 4.2, 4.2,
];
const P4_G8 = [
  4.8, 5.2, 3.8, 4.4, 4.0, 4.6, 5.8, 4.2, 4.6, 5.0,
  4.2, 4.6, 4.0, 5.2, 4.4, 4.8, 4.2, 3.8, 4.8, 4.4,
  3.8, 4.6, 5.2, 4.0, 4.8, 4.2, 5.0, 4.4, 3.6, 4.8,
  4.6, 4.2, 4.4, 5.0, 4.0, 4.8, 4.2, 4.6, 3.8, 5.0,
  4.2, 4.8, 4.4, 3.8, 4.6, 5.0, 4.2, 4.4, 4.8, 3.8,
  5.0, 4.4, 4.6, 4.0, 4.8, 4.2, 4.6, 3.8, 4.4, 5.0,
  4.2, 4.8, 4.0, 4.6, 4.4, 5.0, 4.2, 4.6, 4.0, 4.8,
  4.6, 4.2, 5.0, 4.4, 3.8, 4.6, 4.2, 4.8, 4.0, 4.6,
  4.2, 4.8, 4.4, 4.0, 4.6, 4.2, 5.0, 3.8, 4.4, 4.6,
  4.4, 4.0, 4.8, 4.2, 4.6, 3.9, 3.9,
];
const P4_G9 = [
  5.8, 3.4, 5.2, 4.0, 5.6, 3.6, 5.0, 5.8, 3.8, 5.4,
  4.0, 5.8, 3.4, 5.0, 3.8, 5.6, 4.2, 5.2, 3.4, 5.6,
  3.8, 5.4, 4.2, 3.6, 5.8, 4.0, 5.2, 3.6, 5.4, 4.4,
  5.8, 3.8, 5.0, 3.6, 5.4, 4.2, 5.8, 3.8, 5.2, 3.4,
  5.6, 4.0, 5.0, 3.6, 5.4, 3.8, 5.8, 4.2, 3.6, 5.2,
  3.8, 5.6, 4.0, 5.2, 3.4, 5.8, 4.2, 5.0, 3.6, 5.4,
  4.0, 5.6, 3.6, 5.2, 3.8, 5.8, 4.2, 5.0, 3.4, 5.6,
  3.8, 5.2, 4.0, 5.8, 3.6, 5.4, 4.2, 5.0, 3.8, 5.6,
  3.6, 5.4, 4.0, 5.8, 3.8, 5.0, 3.4, 5.6, 4.2, 5.2,
  3.8, 5.4, 3.6, 5.8, 4.0, 5.2, 5.2,
];
const P4_G10 = [
  3.8, 4.8, 5.6, 3.4, 4.2, 5.8, 4.6, 3.6, 5.2, 4.4,
  3.4, 5.0, 5.8, 4.0, 3.6, 5.4, 4.8, 3.2, 4.4, 5.6,
  4.2, 3.4, 5.0, 5.6, 3.8, 4.4, 5.8, 3.6, 4.6, 5.2,
  3.4, 4.8, 5.6, 3.8, 4.2, 5.4, 3.2, 4.6, 5.8, 4.0,
  3.6, 5.2, 4.4, 3.4, 5.6, 4.8, 3.8, 5.0, 5.6, 3.6,
  4.4, 5.2, 3.4, 4.8, 5.6, 3.8, 4.2, 5.4, 3.6, 4.6,
  5.2, 3.6, 4.4, 5.8, 3.8, 4.6, 5.0, 3.4, 4.8, 5.6,
  3.8, 4.4, 5.4, 3.6, 4.8, 5.2, 3.4, 4.6, 5.8, 4.0,
  3.6, 5.0, 4.4, 3.2, 5.4, 4.6, 3.8, 5.6, 4.2, 3.4,
  5.2, 4.4, 3.6, 5.0, 5.6, 4.2, 4.2,
];
const P4_G11 = [
  4.2, 5.4, 4.6, 5.0, 3.4, 4.8, 5.6, 4.0, 5.2, 3.6,
  5.0, 4.4, 3.8, 5.4, 5.0, 4.2, 3.6, 5.2, 4.6, 4.0,
  5.4, 4.4, 3.8, 4.8, 5.2, 4.0, 3.4, 5.0, 4.6, 5.6,
  4.2, 3.6, 5.2, 4.6, 4.0, 5.4, 4.8, 3.6, 4.4, 5.2,
  4.6, 4.0, 5.4, 4.2, 3.6, 5.0, 4.6, 3.8, 5.2, 4.4,
  4.0, 5.0, 4.6, 3.6, 5.2, 4.4, 4.8, 3.8, 5.4, 4.2,
  4.8, 3.8, 5.2, 4.4, 4.0, 5.0, 4.6, 3.6, 5.4, 4.2,
  4.6, 5.2, 3.8, 4.4, 5.6, 4.0, 4.8, 5.2, 3.6, 4.6,
  5.0, 4.2, 3.8, 5.4, 4.6, 4.0, 5.2, 4.4, 3.6, 5.0,
  4.4, 5.2, 3.8, 4.6, 5.0, 4.4, 4.4,
];
const P4_G12 = [
  3.4, 4.0, 3.6, 4.6, 4.2, 3.8, 4.8, 3.4, 4.4, 3.6,
  4.4, 3.8, 3.2, 4.2, 3.6, 4.6, 3.8, 3.4, 4.4, 4.0,
  3.6, 4.2, 3.4, 3.8, 4.6, 3.2, 4.0, 4.4, 3.6, 3.4,
  4.2, 3.6, 3.8, 4.4, 3.4, 4.0, 3.6, 4.6, 3.8, 3.4,
  4.4, 3.6, 3.8, 4.2, 3.4, 4.6, 3.8, 3.2, 4.2, 3.8,
  3.4, 4.2, 3.6, 4.0, 4.6, 3.4, 3.8, 4.4, 3.6, 4.0,
  4.2, 3.4, 4.0, 3.6, 4.4, 3.8, 3.2, 4.2, 3.6, 4.0,
  3.6, 4.2, 3.4, 4.0, 3.8, 4.4, 3.4, 3.8, 4.2, 3.4,
  4.0, 3.6, 4.4, 3.8, 3.4, 4.2, 3.6, 4.0, 3.4, 4.4,
  3.6, 4.0, 3.4, 4.2, 3.6, 3.8, 3.8,
];

const PANEL_DATA = [
  { labels: YEARS, mean: P1_MEAN, greys: [P1_G1, P1_G2, P1_G3, P1_G4, P1_G5, P1_G6, P1_G7, P1_G8, P1_G9, P1_G10, P1_G11, P1_G12] },
  { labels: YEARS_P5, mean: P2_MEAN, greys: [P2_G1, P2_G2, P2_G3, P2_G4, P2_G5, P2_G6, P2_G7, P2_G8, P2_G9, P2_G10, P2_G11, P2_G12] },
  { labels: YEARS, mean: P3_MEAN, greys: [P3_G1, P3_G2, P3_G3, P3_G4, P3_G5, P3_G6, P3_G7, P3_G8, P3_G9, P3_G10, P3_G11, P3_G12] },
  { labels: YEARS, mean: P4_MEAN, greys: [P4_G1, P4_G2, P4_G3, P4_G4, P4_G5, P4_G6, P4_G7, P4_G8, P4_G9, P4_G10, P4_G11, P4_G12] },
];

// ---------- layout (page pixels) ----------
const PANEL_TOPS = [5, 420, 840, 1257];
const PANEL_HEIGHTS = [415, 420, 417, 414];
const PANEL_LEFT = 8;
const PANEL_WIDTH = 872;
const PLOT_TOP = 66;
const PLOT_BOTTOM = 345;
const Y_AXIS_WIDTH = 89;
const X_AXIS_HEIGHT = 50;
const FONT = "'Open Sans', 'Noto Sans', sans-serif";
const TEXT_COLOR = "#595959";

const textPlugin = {
  id: "panelText",
  afterDraw(chart: any) {
    const opts = chart.options.plugins.panelText;
    const { ctx, chartArea } = chart;
    ctx.save();
    ctx.fillStyle = TEXT_COLOR;
    ctx.textAlign = "center";
    ctx.textBaseline = "alphabetic";
    ctx.font = `21px ${FONT}`;
    ctx.fillText(opts.title, 444, 35);
    ctx.font = `15px ${FONT}`;
    ctx.fillText(X_TITLE, (chartArea.left + chartArea.right) / 2, chartArea.bottom + 61);
    ctx.translate(49, (chartArea.top + chartArea.bottom) / 2);
    ctx.rotate(-Math.PI / 2);
    ctx.fillText(Y_TITLE, 0, 0);
    ctx.restore();
  },
};

function Panel({ index }: { index: number }) {
  const ref = useRef<HTMLCanvasElement | null>(null);
  const height = PANEL_HEIGHTS[index];
  useEffect(() => {
    const d = PANEL_DATA[index];
    // Chart.js paints dataset 0 on top, so the mean line goes first.
    const datasets: any[] = [
      {
        data: d.mean,
        borderColor: "#000000",
        borderWidth: 4.5,
        pointRadius: 0,
        tension: 0,
        borderJoinStyle: "round",
        borderCapStyle: "round",
      },
    ];
    d.greys.forEach((g) =>
      datasets.push({
        data: g,
        borderColor: "#c8c8c8",
        borderWidth: 1,
        pointRadius: 0,
        tension: 0,
        borderJoinStyle: "round",
      })
    );
    const labels = d.labels;
    const chart = new Chart(ref.current as HTMLCanvasElement, {
      type: "line",
      data: { labels, datasets },
      plugins: [textPlugin as any],
      options: {
        animation: false,
        responsive: false,
        devicePixelRatio: 1,
        events: [],
        layout: {
          autoPadding: false,
          padding: {
            top: PLOT_TOP,
            left: 0,
            right: 2,
            bottom: height - PLOT_BOTTOM - X_AXIS_HEIGHT,
          },
        } as any,
        plugins: {
          legend: { display: false },
          tooltip: { enabled: false },
          panelText: { title: TITLES[index] },
        } as any,
        scales: {
          x: {
            type: "category",
            offset: true,
            grid: { display: false, drawTicks: false },
            border: { display: true, color: "#d0d0d0", width: 1 },
            ticks: {
              autoSkip: false,
              minRotation: 90,
              maxRotation: 90,
              padding: 4,
              color: TEXT_COLOR,
              font: { family: FONT, size: 12.5 },
              callback: (_v: any, i: number) => (i % 3 === 0 && i < labels.length - 1 ? labels[i] : ""),
            },
            afterFit: (s: any) => {
              s.height = X_AXIS_HEIGHT;
            },
          },
          y: {
            min: 0,
            max: Y_MAX[index],
            grid: { color: "#e6e6e6", drawTicks: false },
            border: { display: false },
            ticks: {
              stepSize: Y_STEP[index],
              padding: 14,
              color: TEXT_COLOR,
              font: { family: FONT, size: 12.5 },
              callback: (v: any) => String(Math.round(Number(v) * 10) / 10),
            },
            afterFit: (s: any) => {
              s.width = Y_AXIS_WIDTH;
            },
          },
        },
      } as any,
    });
    return () => chart.destroy();
  }, [index, height]);

  return (
    <div
      style={{
        position: "absolute",
        left: PANEL_LEFT,
        top: PANEL_TOPS[index],
        width: PANEL_WIDTH,
        height,
        background: "#ffffff",
      }}
    >
      <canvas
        ref={ref}
        width={PANEL_WIDTH}
        height={height}
        style={{ display: "block", width: PANEL_WIDTH, height }}
      />
      <div
        style={{
          position: "absolute",
          left: 0,
          top: 0,
          right: 0,
          bottom: 0,
          border: "1px solid #d9d9d9",
          pointerEvents: "none",
        }}
      />
    </div>
  );
}

export default function App() {
  return (
    <div style={{ position: "absolute", left: 0, top: 0, width: 884, height: 1671, background: "#ffffff" }}>
      {[0, 1, 2, 3].map((i) => (
        <Panel key={i} index={i} />
      ))}
    </div>
  );
}
